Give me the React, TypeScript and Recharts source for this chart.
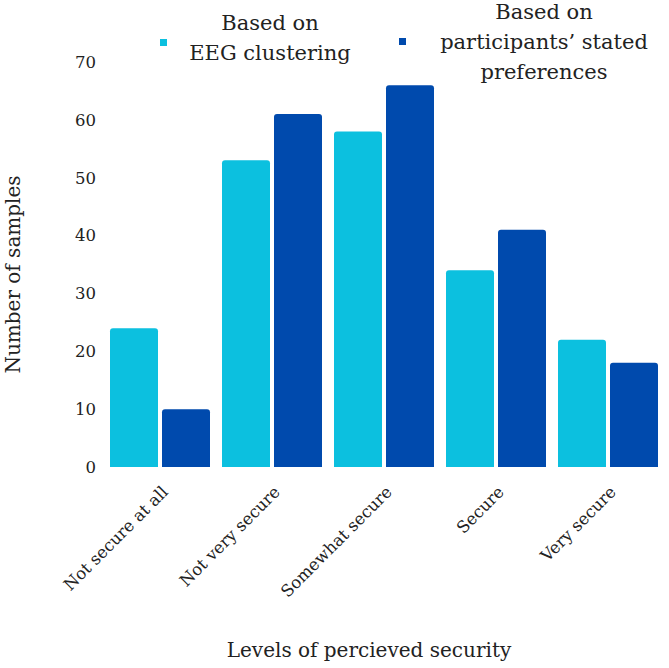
import { BarChart, Bar, XAxis, YAxis, Label } from "recharts";

const levels = [
  "Not secure at all",
  "Not very secure",
  "Somewhat secure",
  "Secure",
  "Very secure",
];
const eegClustering = [24, 53, 58, 34, 22];
const statedPreferences = [10, 61, 66, 41, 18];
const yTicks = [0, 10, 20, 30, 40, 50, 60, 70];

const eegLines = ["Based on", "EEG clustering"];
const statedLines = ["Based on", "participants\u2019 stated", "preferences"];

const CYAN = "#0cc0df";
const NAVY = "#004aad";
const FONT = "'DejaVu Serif', serif";
const INK = "#222";

const data = levels.map((level, i) => ({
  level,
  eeg: eegClustering[i],
  stated: statedPreferences[i],
}));

function SlantTick(props: any) {
  const { x, y, payload } = props;
  const ax = x + 9;
  const ay = y + 18;
  return (
    <text
      x={ax}
      y={ay}
      transform={`rotate(-45, ${ax}, ${ay})`}
      textAnchor="end"
      fontSize={16.5}
      fontFamily={FONT}
      fill={INK}
    >
      {payload.value}
    </text>
  );
}

function YTitle(props: any) {
  const { viewBox } = props;
  const cx = 13;
  const cy = viewBox.y + viewBox.height / 2 + 10;
  return (
    <text
      x={cx}
      y={cy}
      transform={`rotate(-90, ${cx}, ${cy})`}
      textAnchor="middle"
      dominantBaseline="central"
      fontSize={20}
      fontFamily={FONT}
      fill={INK}
    >
      Number of samples
    </text>
  );
}

function LegendItem({
  color,
  lines,
  squareX,
  squareY,
  textX,
  textTop,
}: {
  color: string;
  lines: string[];
  squareX: number;
  squareY: number;
  textX: number;
  textTop: number;
}) {
  return (
    <>
      <div
        style={{
          position: "absolute",
          left: squareX,
          top: squareY,
          width: 7,
          height: 7,
          background: color,
        }}
      />
      <div
        style={{
          position: "absolute",
          left: textX - 150,
          top: textTop,
          width: 300,
          textAlign: "center",
          fontFamily: FONT,
          fontSize: 21,
          lineHeight: "30px",
          color: INK,
        }}
      >
        {lines.map((l) => (
          <div key={l}>{l}</div>
        ))}
      </div>
    </>
  );
}

export default function App() {
  return (
    <div
      style={{
        position: "absolute",
        left: 0,
        top: 0,
        width: 669,
        height: 668,
        background: "#fff",
      }}
    >
      <BarChart
        width={669}
        height={668}
        data={data}
        margin={{ top: 62, right: 5, left: 0, bottom: 0 }}
        barCategoryGap={6}
        barGap={4}
      >
        <XAxis
          dataKey="level"
          axisLine={false}
          tickLine={false}
          interval={0}
          height={201}
          tick={<SlantTick />}
        >
          <Label
            value="Levels of percieved security"
            position="insideBottom"
            offset={11}
            dx={-15}
            fontSize={20}
            fontFamily={FONT}
            fill={INK}
          />
        </XAxis>
        <YAxis
          width={104}
          domain={[0, 70]}
          ticks={yTicks}
          axisLine={false}
          tickLine={false}
          tick={{ fontSize: 16.5, fontFamily: FONT, fill: INK }}
        >
          <Label content={<YTitle />} />
        </YAxis>
        <Bar
          dataKey="eeg"
          name="Based on EEG clustering"
          fill={CYAN}
          radius={[3, 3, 0, 0]}
          isAnimationActive={false}
        />
        <Bar
          dataKey="stated"
          name="Based on participants' stated preferences"
          fill={NAVY}
          radius={[3, 3, 0, 0]}
          isAnimationActive={false}
        />
      </BarChart>
      <LegendItem
        color={CYAN}
        lines={eegLines}
        squareX={160}
        squareY={39}
        textX={270}
        textTop={8}
      />
      <LegendItem
        color={NAVY}
        lines={statedLines}
        squareX={399}
        squareY={38}
        textX={544}
        textTop={-3}
      />
    </div>
  );
}
